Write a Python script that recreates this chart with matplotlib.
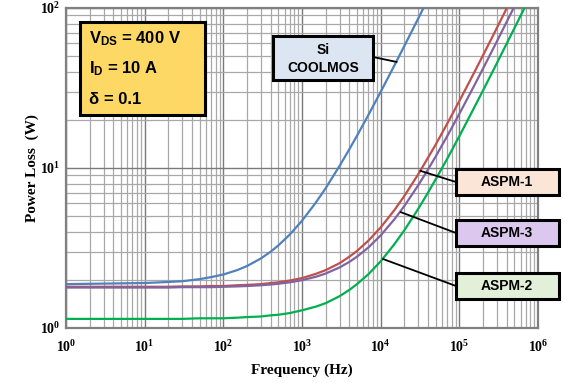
import matplotlib
matplotlib.use("Agg")
import matplotlib.pyplot as plt
from matplotlib.patches import Rectangle
from matplotlib.ticker import FixedLocator, LogLocator, NullFormatter

plt.rcParams['mathtext.fontset'] = 'custom'
plt.rcParams['mathtext.rm'] = 'Liberation Serif:bold'
plt.rcParams['mathtext.bf'] = 'Liberation Serif:bold'
plt.rcParams['mathtext.it'] = 'Liberation Serif:bold'
plt.rcParams['mathtext.sf'] = 'Liberation Sans:bold'

# frequency points (Hz)
freq = [1, 10, 20, 30, 50, 70, 100, 150, 200, 300, 400, 500, 700,
        1e3, 1.5e3, 2e3, 3e3, 4e3, 5e3, 7e3, 1e4, 1.5e4, 2e4, 3e4, 4e4,
        5e4, 7e4, 1e5, 1.5e5, 2e5, 3e5, 5e5, 7e5, 1e6]

# power loss (W) for each device
si_coolmos = [1.88, 1.91, 1.94, 1.96, 2.02, 2.08, 2.16, 2.30, 2.44, 2.72,
              3.00, 3.28, 3.84, 4.68, 6.08, 7.48, 10.3, 13.1, 15.9, 21.5,
              29.9, 43.9, 57.9, 85.9, 114]
aspm1 = [1.81, 1.81, 1.81, 1.82, 1.82, 1.83, 1.83, 1.85, 1.86, 1.88,
         1.91, 1.93, 1.98, 2.05, 2.18, 2.30, 2.54, 2.79, 3.03, 3.52,
         4.25, 5.47, 6.69, 9.13, 11.6, 14.0, 18.9, 26.2, 38.4, 50.6,
         75.0, 124]
aspm3 = [1.79, 1.79, 1.79, 1.80, 1.80, 1.80, 1.81, 1.82, 1.83, 1.85,
         1.87, 1.89, 1.93, 1.99, 2.09, 2.19, 2.39, 2.59, 2.79, 3.19,
         3.79, 4.79, 5.79, 7.79, 9.79, 11.8, 15.8, 21.8, 31.8, 41.8,
         61.8, 102]
aspm2 = [1.14, 1.14, 1.14, 1.14, 1.15, 1.15, 1.15, 1.16, 1.17, 1.18,
         1.20, 1.21, 1.24, 1.29, 1.36, 1.43, 1.58, 1.73, 1.88, 2.17,
         2.61, 3.35, 4.08, 5.55, 7.02, 8.49, 11.4, 15.8, 23.2, 30.5,
         45.2, 74.6, 104, 148]

x_ticks = [1, 10, 100, 1e3, 1e4, 1e5, 1e6]
x_labels = ['$10^{%d}$' % i for i in range(7)]
y_ticks = [1, 10, 100]
y_labels = ['$10^{%d}$' % i for i in range(3)]

W, H = 563, 383
fig = plt.figure(figsize=(W / 100, H / 100), dpi=100)
ax = fig.add_axes([66 / W, 1 - 328 / H, 472 / W, 320 / H])

ax.plot(freq[:len(si_coolmos)], si_coolmos, color='#4F81BD', lw=1.6, zorder=3)
ax.plot(freq[:len(aspm1)], aspm1, color='#C0504D', lw=1.6, zorder=3)
ax.plot(freq[:len(aspm3)], aspm3, color='#8064A2', lw=1.6, zorder=4)
ax.plot(freq[:len(aspm2)], aspm2, color='#00B050', lw=1.6, zorder=3)

ax.set_xscale('log')
ax.set_yscale('log')
ax.set_xlim(1, 1e6)
ax.set_ylim(1, 100)

ax.xaxis.set_major_locator(FixedLocator(x_ticks))
ax.yaxis.set_major_locator(FixedLocator(y_ticks))
ax.xaxis.set_minor_locator(LogLocator(base=10, subs=range(2, 10), numticks=20))
ax.yaxis.set_minor_locator(LogLocator(base=10, subs=range(2, 10), numticks=20))
ax.xaxis.set_minor_formatter(NullFormatter())
ax.yaxis.set_minor_formatter(NullFormatter())
ax.set_xticklabels(x_labels, fontsize=10)
ax.set_yticklabels(y_labels, fontsize=10)
ax.tick_params(which='both', length=0)
ax.tick_params(axis='x', pad=8)
ax.tick_params(axis='y', pad=4)

ax.grid(which='major', color='#7a7a7a', lw=1.0)
ax.grid(which='minor', color='#a8a8a8', lw=0.9)
ax.set_axisbelow(True)
for s in ax.spines.values():
    s.set_color('#808080')
    s.set_linewidth(1.6)

ax.set_xlabel('Frequency (Hz)', fontsize=11, fontweight='bold',
              family='Liberation Serif', labelpad=6)
ax.set_ylabel('Power Loss  (W)', fontsize=11, fontweight='bold',
              family='Liberation Serif', labelpad=1)


def fig_box(x0, y0, x1, y1, color):
    # pixel coords measured from the top-left corner
    r = Rectangle((x0 / W, 1 - y1 / H), (x1 - x0) / W, (y1 - y0) / H,
                  transform=fig.transFigure, facecolor=color,
                  edgecolor='black', lw=2.2, zorder=10)
    fig.add_artist(r)


def fig_text(x, y, s, **kw):
    fig.text(x / W, 1 - y / H, s, family='Liberation Sans', fontweight='bold',
             zorder=11, **kw)


def connector(xy, px, py):
    ax.annotate('', xy=xy, xycoords='data', xytext=(px, H - py),
                textcoords='figure pixels',
                arrowprops=dict(arrowstyle='-', color='black', lw=1.3,
                                shrinkA=0, shrinkB=0), zorder=9)


# condition box
fig_box(80, 22, 205, 115, '#FDD865')
fig_text(89, 39, r'V$_{\mathsf{DS}}$ = 400 V', fontsize=12, va='center')
fig_text(89, 69, r'I$_{\mathsf{D}}$ = 10 A', fontsize=12, va='center')
fig_text(89, 99, '\u03b4 = 0.1', fontsize=12, va='center')

# device labels
fig_box(273, 36, 373, 80, '#DCE6F2')
fig_text(323, 50, 'Si', fontsize=10, ha='center', va='center')
fig_text(323, 68, 'COOLMOS', fontsize=10, ha='center', va='center')
connector((1.6e4, 46), 373, 57)

fig_box(456, 169, 559, 195, '#FBE5D6')
fig_text(507, 182, 'ASPM-1', fontsize=10, ha='center', va='center')
connector((3.2e4, 9.6), 456, 182)

fig_box(456, 220, 559, 246, '#DCC8EE')
fig_text(507, 233, 'ASPM-3', fontsize=10, ha='center', va='center')
connector((1.8e4, 5.3), 456, 233)

fig_box(456, 273, 559, 299, '#E2F0D9')
fig_text(507, 286, 'ASPM-2', fontsize=10, ha='center', va='center')
connector((1.07e4, 2.7), 456, 286)

fig.savefig('out.png', dpi=100)
